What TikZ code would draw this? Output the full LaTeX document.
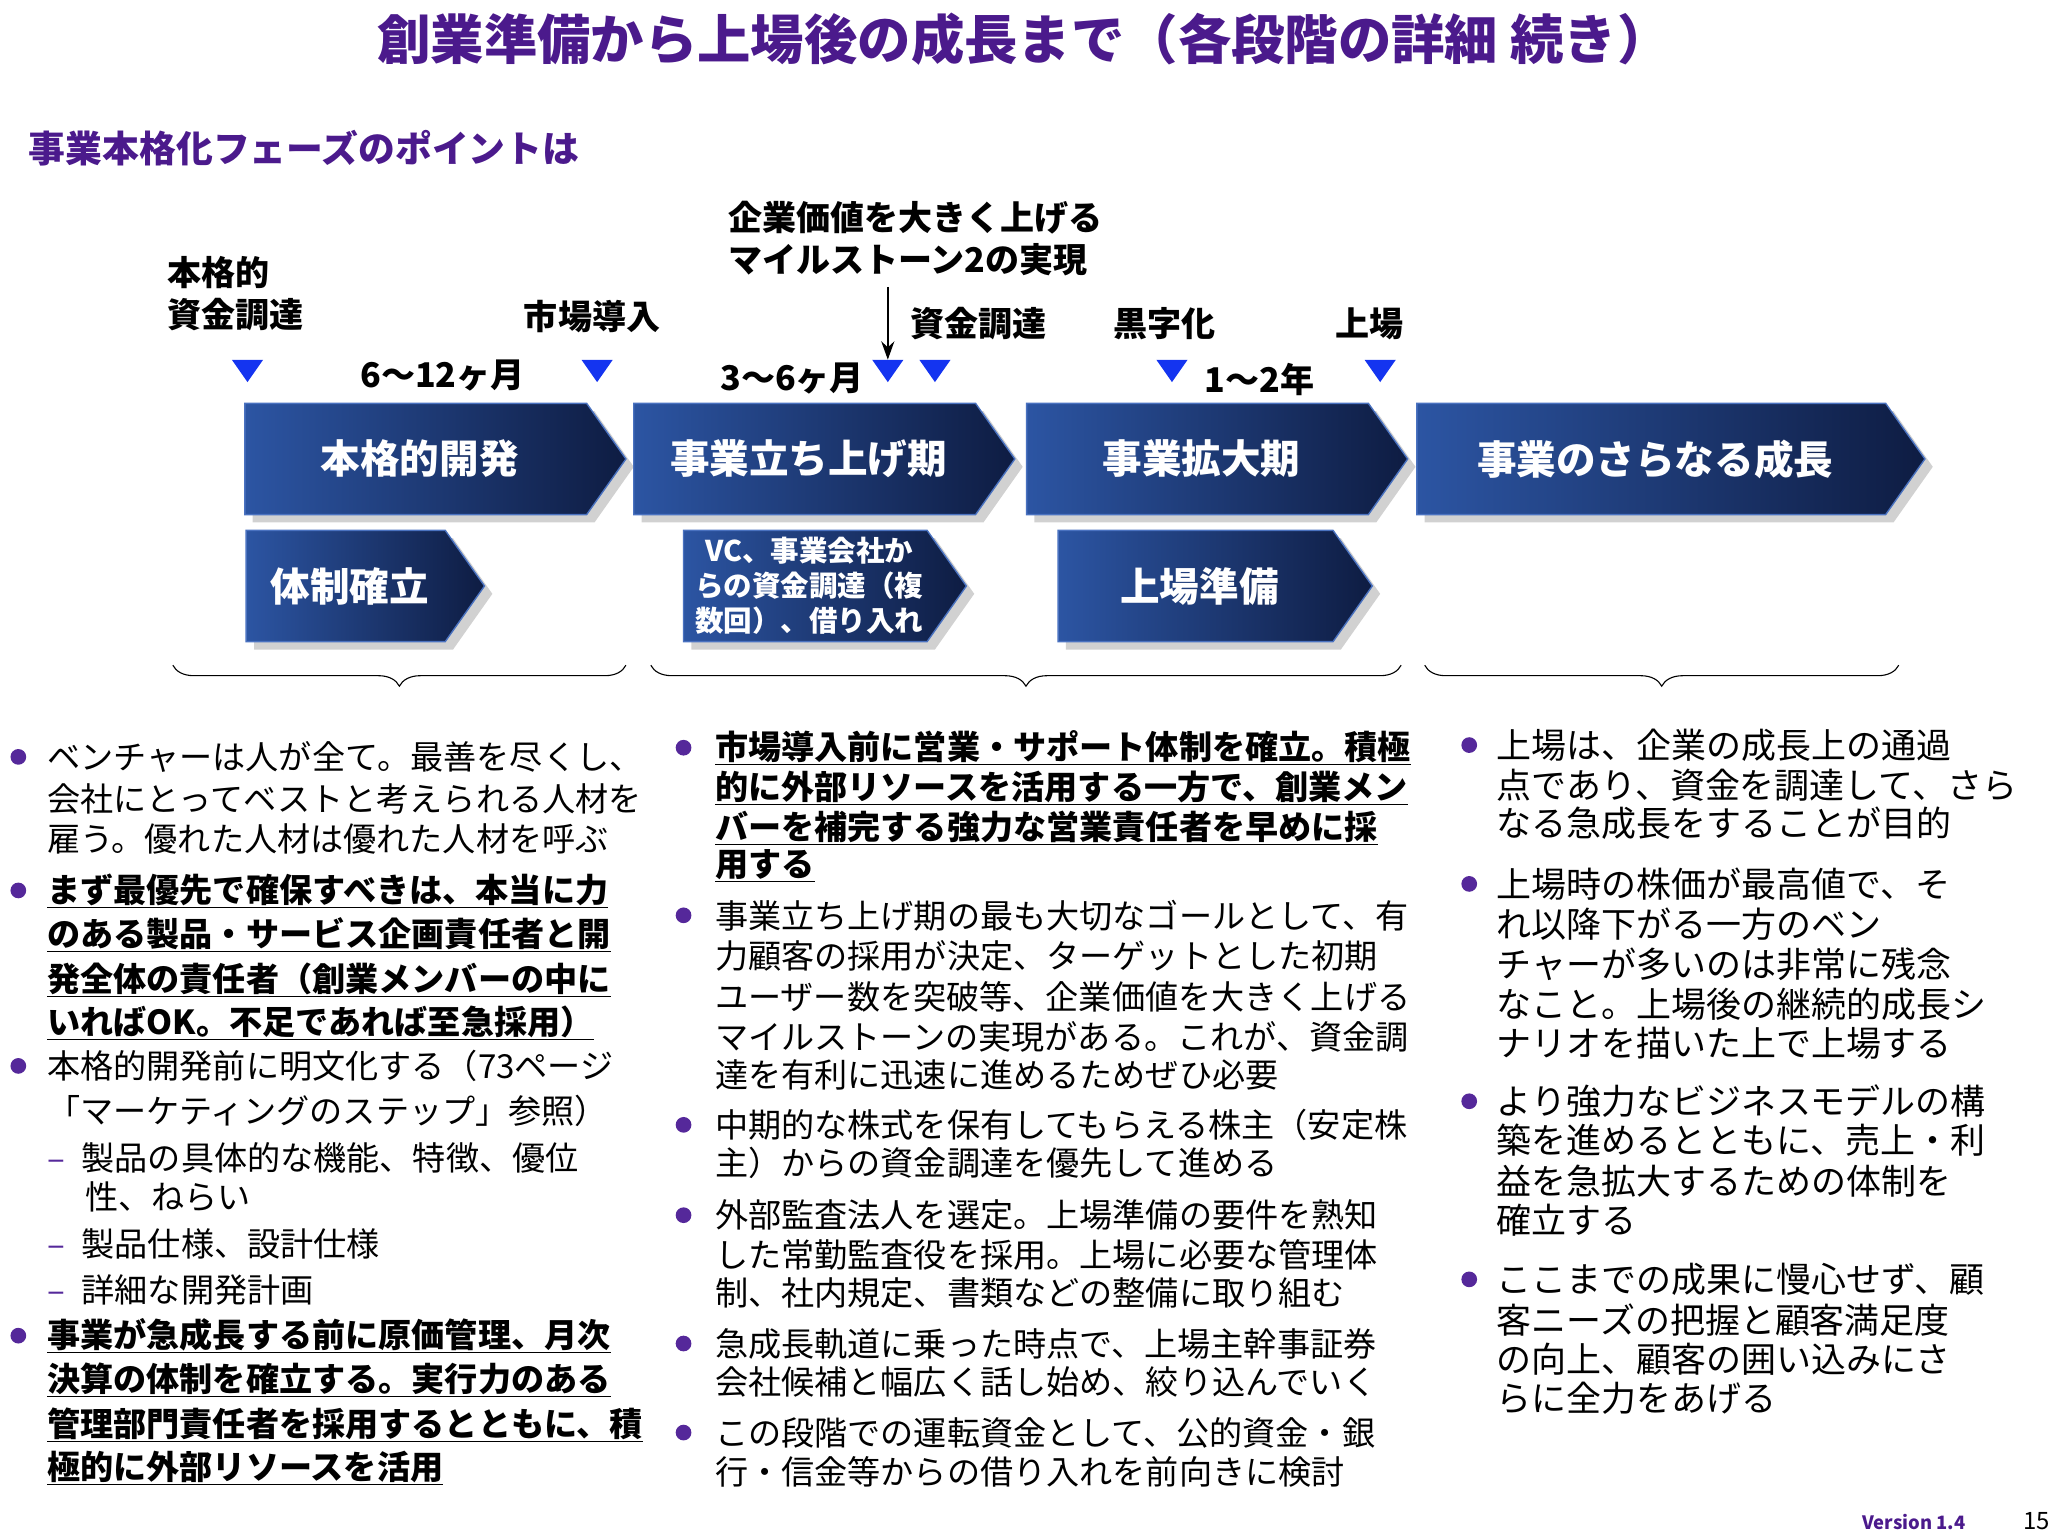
\documentclass[tikz,border=0pt]{standalone}
\usepackage{fontspec}
\setmainfont{Noto Sans CJK JP}
\usetikzlibrary{shapes.geometric,decorations.pathreplacing,arrows.meta}
\definecolor{pur}{HTML}{4B1A8C}
\definecolor{bulc}{HTML}{55289A}
\definecolor{tblue}{HTML}{1434F0}
\definecolor{chL}{HTML}{2C55A3}
\definecolor{chR}{HTML}{0E1C42}
\definecolor{chE}{HTML}{4A72C0}
\newcommand\Tx[4]{\node[txt] (#1) at (#2,#3) {#4};}
\newcommand\Bu[3]{\node[bul] (#1) at (#2,#3) {};}
\newcommand\Chev[7]{% name x0 y0 x1 y1 fontsize text
  \fill[black!18] (#2+6,#3+6) -- (#4-24,#3+6) -- (#4+6,{(#3+#5)/2+6}) -- (#4-24,#5+6) -- (#2+6,#5+6) -- cycle;
  \shade[left color=chL,right color=chR,draw=chE,line width=1.5pt] (#2,#3) -- (#4-30,#3) -- (#4,{(#3+#5)/2}) -- (#4-30,#5) -- (#2,#5) -- cycle;
  \node[chtxt,font=\bfseries\fontsize{#6}{38}\selectfont] (#1) at ({(#2+#4)/2-12},{(#3+#5)/2}) {#7};}
\tikzset{
  txt/.style={anchor=west,inner sep=0pt,font=\fontsize{36}{40}\selectfont},
  txt3/.style={txt,font=\fontsize{38}{42}\selectfont},
  lab/.style={anchor=west,inner sep=0pt,font=\bfseries\fontsize{37}{46}\selectfont,align=left},
  bul/.style={circle,fill=bulc,minimum size=0.6cm,inner sep=0pt},
  tri/.style={isosceles triangle,shape border rotate=-90,isosceles triangle apex angle=70,fill=tblue,minimum height=0.85cm,inner sep=0pt},
  chtxt/.style={text=white,align=center,inner sep=0pt},
  brc/.style={decorate,decoration={brace,amplitude=0.8cm,mirror},line width=1.2pt}
}
\begin{document}
\begin{tikzpicture}[x=0.05cm,y=-0.05cm]
\useasboundingbox (0,0) rectangle (1564,1173);
% titles
\node[font=\bfseries\fontsize{58}{60}\selectfont,text=pur,inner sep=0pt] (title) at (782,30) {創業準備から上場後の成長まで（各段階の詳細 続き）};
\node[font=\bfseries\fontsize{40}{44}\selectfont,text=pur,anchor=west,inner sep=0pt] (sub) at (22,113) {事業本格化フェーズのポイントは};
% labels
\node[lab] (l1) at (128,224) {本格的\\資金調達};
\node[lab] (l2) at (400,242) {市場導入};
\node[lab] (l3) at (556,182) {企業価値を大きく上げる\\マイルストーン2の実現};
\node[lab] (l4) at (695,247) {資金調達};
\node[lab] (l5) at (850,247) {黒字化};
\node[lab] (l6) at (1020,247) {上場};
\node[lab] (d1) at (275,287) {6〜12ヶ月};
\node[lab] (d2) at (550,289) {3〜6ヶ月};
\node[lab] (d3) at (920,290) {1〜2年};
% triangles
\node[tri] (t1) at (189,281) {};
\node[tri] (t2) at (456,281) {};
\node[tri] (t3) at (678,281) {};
\node[tri] (t4) at (714,281) {};
\node[tri] (t5) at (895,281) {};
\node[tri] (t6) at (1054,281) {};
\coordinate (arS) at (678,219);
\draw[-{Stealth[length=0.7cm,width=0.5cm]},line width=1.5pt] (arS) -- (t3.north);
% chevrons
\Chev{c1}{187}{308}{478}{393}{43}{本格的開発}
\Chev{c2}{484}{308}{775}{393}{43}{事業立ち上げ期}
\Chev{c3}{784}{308}{1075}{393}{43}{事業拡大期}
\Chev{c4}{1082}{308}{1470}{393}{43}{事業のさらなる成長}
\Chev{c5}{188}{405}{370}{490}{43}{体制確立}
\Chev{c6}{522}{405}{738}{490}{31}{VC、事業会社か\\らの資金調達（複\\数回）、借り入れ}
\Chev{c7}{808}{405}{1048}{490}{43}{上場準備}
% braces
\coordinate (b1a) at (132,508); \coordinate (b1b) at (478,508);
\coordinate (b2a) at (497,508); \coordinate (b2b) at (1070,508);
\coordinate (b3a) at (1088,508); \coordinate (b3b) at (1450,508);
\draw[brc] (b1a) -- (b1b);
\draw[brc] (b2a) -- (b2b);
\draw[brc] (b3a) -- (b3b);
% column 1
\Bu{p11}{14}{578}
\Tx{a1}{36}{578}{ベンチャーは人が全て。最善を尽くし、}
\Tx{a2}{36}{610}{会社にとってベストと考えられる人材を}
\Tx{a3}{36}{641}{雇う。優れた人材は優れた人材を呼ぶ}
\Bu{p12}{14}{680}
\Tx{a4}{36}{680}{\bfseries\underline{まず最優先で確保すべきは、本当に力}}
\Tx{a5}{36}{714}{\bfseries\underline{のある製品・サービス企画責任者と開}}
\Tx{a6}{36}{748}{\bfseries\underline{発全体の責任者（創業メンバーの中に}}
\Tx{a7}{36}{781}{\bfseries\underline{いればOK。不足であれば至急採用）}}
\Bu{p13}{14}{814}
\Tx{a8}{36}{814}{本格的開発前に明文化する（73ページ}
\Tx{a9}{36}{848}{「マーケティングのステップ」参照）}
\Tx{a10}{36}{884}{\textcolor{bulc}{–}\hspace{0.5em}製品の具体的な機能、特徴、優位}
\Tx{a11}{65}{914}{性、ねらい}
\Tx{a12}{36}{950}{\textcolor{bulc}{–}\hspace{0.5em}製品仕様、設計仕様}
\Tx{a13}{36}{985}{\textcolor{bulc}{–}\hspace{0.5em}詳細な開発計画}
\Bu{p14}{14}{1020}
\Tx{a14}{36}{1020}{\bfseries\underline{事業が急成長する前に原価管理、月次}}
\Tx{a15}{36}{1054}{\bfseries\underline{決算の体制を確立する。実行力のある}}
\Tx{a16}{36}{1088}{\bfseries\underline{管理部門責任者を採用するとともに、積}}
\Tx{a17}{36}{1121}{\bfseries\underline{極的に外部リソースを活用}}
% column 2
\Bu{p21}{522}{571}
\Tx{e1}{546}{571}{\bfseries\underline{市場導入前に営業・サポート体制を確立。積極}}
\Tx{e2}{546}{602}{\bfseries\underline{的に外部リソースを活用する一方で、創業メン}}
\Tx{e3}{546}{632}{\bfseries\underline{バーを補完する強力な営業責任者を早めに採}}
\Tx{e4}{546}{661}{\bfseries\underline{用する}}
\Bu{p22}{522}{699}
\Tx{e5}{546}{699}{事業立ち上げ期の最も大切なゴールとして、有}
\Tx{e6}{546}{730}{力顧客の採用が決定、ターゲットとした初期}
\Tx{e7}{546}{761}{ユーザー数を突破等、企業価値を大きく上げる}
\Tx{e8}{546}{792}{マイルストーンの実現がある。これが、資金調}
\Tx{e9}{546}{821}{達を有利に迅速に進めるためぜひ必要}
\Bu{p23}{522}{859}
\Tx{e10}{546}{859}{中期的な株式を保有してもらえる株主（安定株}
\Tx{e11}{546}{888}{主）からの資金調達を優先して進める}
\Bu{p24}{522}{928}
\Tx{e12}{546}{928}{外部監査法人を選定。上場準備の要件を熟知}
\Tx{e13}{546}{958}{した常勤監査役を採用。上場に必要な管理体}
\Tx{e14}{546}{987}{制、社内規定、書類などの整備に取り組む}
\Bu{p25}{522}{1026}
\Tx{e15}{546}{1026}{急成長軌道に乗った時点で、上場主幹事証券}
\Tx{e16}{546}{1055}{会社候補と幅広く話し始め、絞り込んでいく}
\Bu{p26}{522}{1094}
\Tx{e17}{546}{1094}{この段階での運転資金として、公的資金・銀}
\Tx{e18}{546}{1124}{行・信金等からの借り入れを前向きに検討}
% column 3
\Bu{p31}{1122}{569}
\node[txt3] (f1) at (1143,569) {上場は、企業の成長上の通過};
\node[txt3] (f2) at (1143,600) {点であり、資金を調達して、さら};
\node[txt3] (f3) at (1143,629) {なる急成長をすることが目的};
\Bu{p32}{1122}{675}
\node[txt3] (f4) at (1143,675) {上場時の株価が最高値で、そ};
\node[txt3] (f5) at (1143,706) {れ以降下がる一方のベン};
\node[txt3] (f6) at (1143,736) {チャーが多いのは非常に残念};
\node[txt3] (f7) at (1143,767) {なこと。上場後の継続的成長シ};
\node[txt3] (f8) at (1143,797) {ナリオを描いた上で上場する};
\Bu{p33}{1122}{841}
\node[txt3] (f9) at (1143,841) {より強力なビジネスモデルの構};
\node[txt3] (f10) at (1143,871) {築を進めるとともに、売上・利};
\node[txt3] (f11) at (1143,902) {益を急拡大するための体制を};
\node[txt3] (f12) at (1143,932) {確立する};
\Bu{p34}{1122}{977}
\node[txt3] (f13) at (1143,977) {ここまでの成果に慢心せず、顧};
\node[txt3] (f14) at (1143,1008) {客ニーズの把握と顧客満足度};
\node[txt3] (f15) at (1143,1038) {の向上、顧客の囲い込みにさ};
\node[txt3] (f16) at (1143,1068) {らに全力をあげる};
% footer
\node[anchor=west,inner sep=0pt,text=pur,font=\bfseries\fontsize{20}{22}\selectfont] (ver) at (1422,1162) {Version 1.4};
\node[anchor=west,inner sep=0pt,font=\fontsize{26}{28}\selectfont] (pg) at (1545,1162) {15};
\end{tikzpicture}
\end{document}
